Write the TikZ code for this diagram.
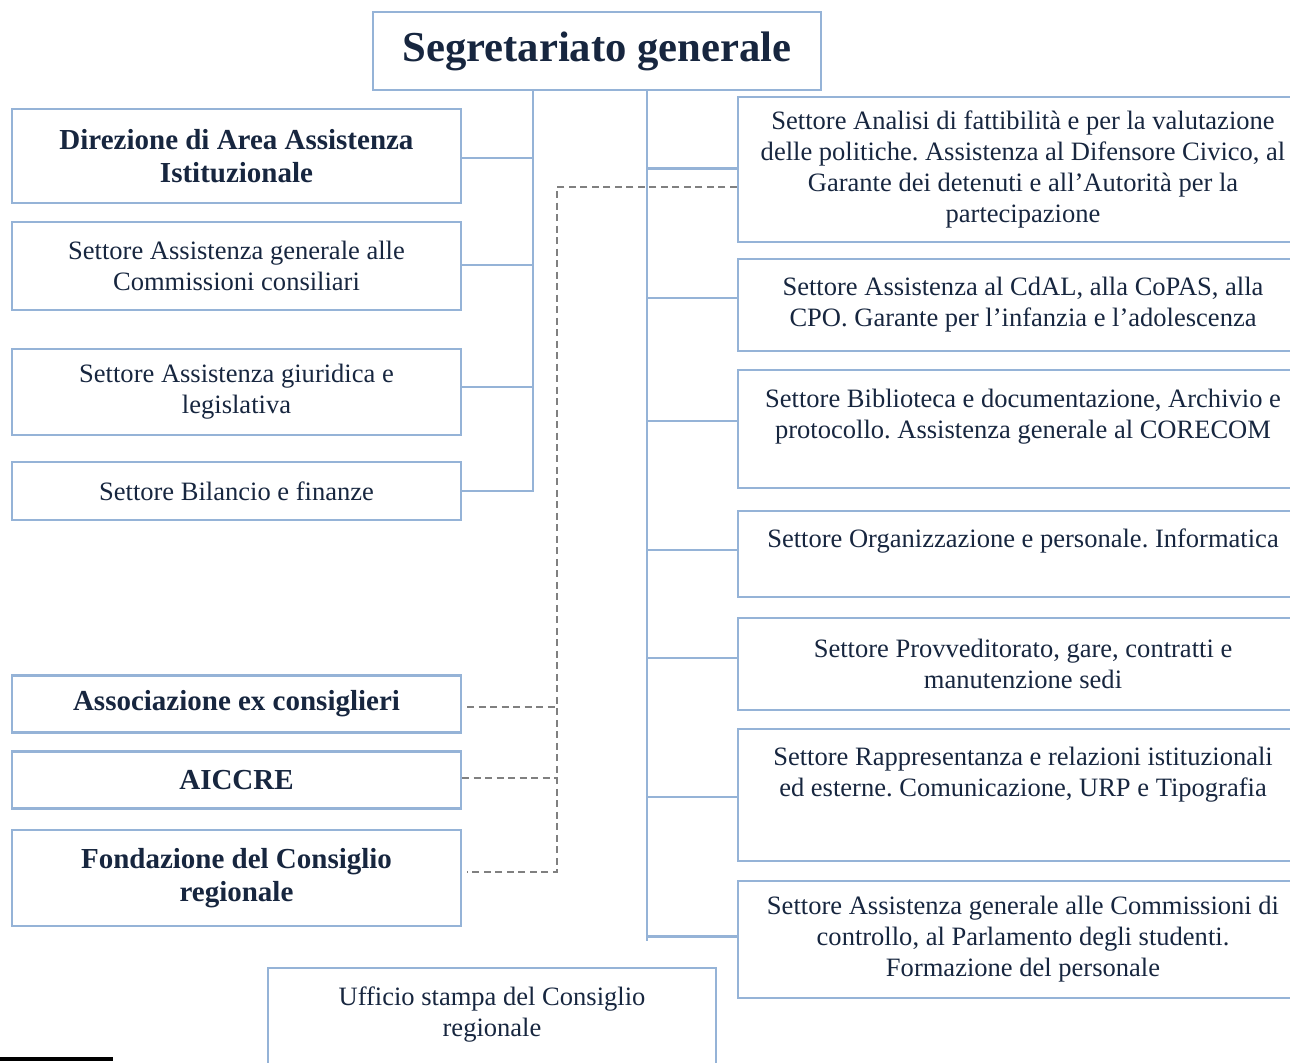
\documentclass[tikz,border=0pt]{standalone}
\usepackage{fontspec}
\setmainfont{Liberation Serif}
\frenchspacing
\definecolor{boxblue}{HTML}{95B3D7}
\definecolor{navy}{HTML}{17263F}
\definecolor{dashgray}{HTML}{808080}
\tikzset{
  orgbox/.style={draw=boxblue, line width=1.3pt, inner sep=0pt, align=center, text=navy, font=\fontsize{15.1}{17.6}\selectfont},
  lbox/.style={orgbox, minimum width=8.98cm},
  boldbox/.style={lbox, font=\bfseries\fontsize{16.5}{18.8}\selectfont},
  rbox/.style={orgbox, minimum width=11.4cm},
  conn/.style={boxblue, line width=1.3pt},
  dline/.style={dashgray, line width=1.3pt, dash pattern=on 0.14cm off 0.09cm},
}
\begin{document}
\begin{tikzpicture}[x=0.02cm, y=-0.02cm]
\useasboundingbox (0,0) rectangle (1290,1062);
\clip (0,0) rectangle (1290,1062);

\node[orgbox, minimum width=8.96cm, minimum height=1.56cm, font=\bfseries\fontsize{24.3}{28}\selectfont] (segr) at (597,51) {\raisebox{-0.06cm}{Segretariato generale}};

%left column
\node[boldbox, minimum height=1.88cm] (dir) at (236.5,156) {Direzione di Area Assistenza\\Istituzionale};
\node[lbox, minimum height=1.76cm] (comm) at (236.5,266) {Settore Assistenza generale alle\\Commissioni consiliari};
\node[lbox, minimum height=1.72cm] (giur) at (236.5,392) {Settore Assistenza giuridica e\\legislativa};
\node[lbox, minimum height=1.16cm] (bil) at (236.5,491) {Settore Bilancio e finanze};

\node[boldbox, minimum height=1.14cm] (assoc) at (236.5,704) {Associazione ex consiglieri};
\node[boldbox, minimum height=1.14cm] (aiccre) at (236.5,780) {AICCRE};
\node[boldbox, minimum height=1.92cm] (fond) at (236.5,878) {Fondazione del Consiglio\\regionale};

%right column
\node[rbox, minimum height=2.9cm] (anal) at (1023,169.5) {Settore Analisi di fattibilità e per la valutazione\\delle politiche. Assistenza al Difensore Civico, al\\Garante dei detenuti e all’Autorità per la\\partecipazione};
\node[rbox, minimum height=1.84cm] (cdal) at (1023,305) {Settore Assistenza al CdAL, alla CoPAS, alla\\CPO. Garante per l’infanzia e l’adolescenza};
\node[rbox, minimum height=2.36cm] (bibl) at (1023,429) {Settore Biblioteca e documentazione, Archivio e\\protocollo. Assistenza generale al CORECOM\\\mbox{}};
\node[rbox, minimum height=1.72cm] (org) at (1023,554) {Settore Organizzazione e personale. Informatica\\\mbox{}};
\node[rbox, minimum height=1.84cm] (provv) at (1023,664) {Settore Provveditorato, gare, contratti e\\manutenzione sedi};
\node[rbox, minimum height=2.64cm] (rapp) at (1023,795) {Settore Rappresentanza e relazioni istituzionali\\ed esterne. Comunicazione, URP e Tipografia\\[0.3cm]\mbox{}};
\node[rbox, minimum height=2.34cm] (ctrl) at (1023,939.5) {Settore Assistenza generale alle Commissioni di\\controllo, al Parlamento degli studenti.\\Formazione del personale};

%bottom
\node[lbox, minimum width=8.96cm, minimum height=2.36cm] (uff) at (492,1027) {Ufficio stampa del Consiglio\\regionale\\\mbox{}};

%trunks
\coordinate (lt) at (533,491);
\coordinate (rt) at (647,941);
\draw[conn] (segr.south -| lt) |- (bil.east);
\foreach \n/\s in {dir/-2, comm/1, giur/5}
  \draw[conn] ([yshift=\s*0.02cm]\n.east) -- ([yshift=\s*0.02cm]\n.east -| lt);
\draw[conn] (segr.south -| rt) -- (rt);
\foreach \n/\s in {anal/1, cdal/7, bibl/8, org/4, provv/6, rapp/-2, ctrl/3}
  \draw[conn] ([yshift=\s*0.02cm]\n.west -| rt) -- ([yshift=\s*0.02cm]\n.west);

%dashed links
\coordinate (dt) at (557,187);
\draw[dline] (anal.west |- dt) -- (dt) |- ([xshift=0.1cm,yshift=0.12cm]fond.east);
\draw[dline] ([xshift=0.1cm,yshift=-0.06cm]assoc.east) -- ([yshift=-0.06cm]assoc.east -| dt);
\draw[dline] ([yshift=0.04cm]aiccre.east) -- ([yshift=0.04cm]aiccre.east -| dt);

\draw[line width=2pt] (0,1059) -- (113,1059); %footnote rule
\end{tikzpicture}
\end{document}
